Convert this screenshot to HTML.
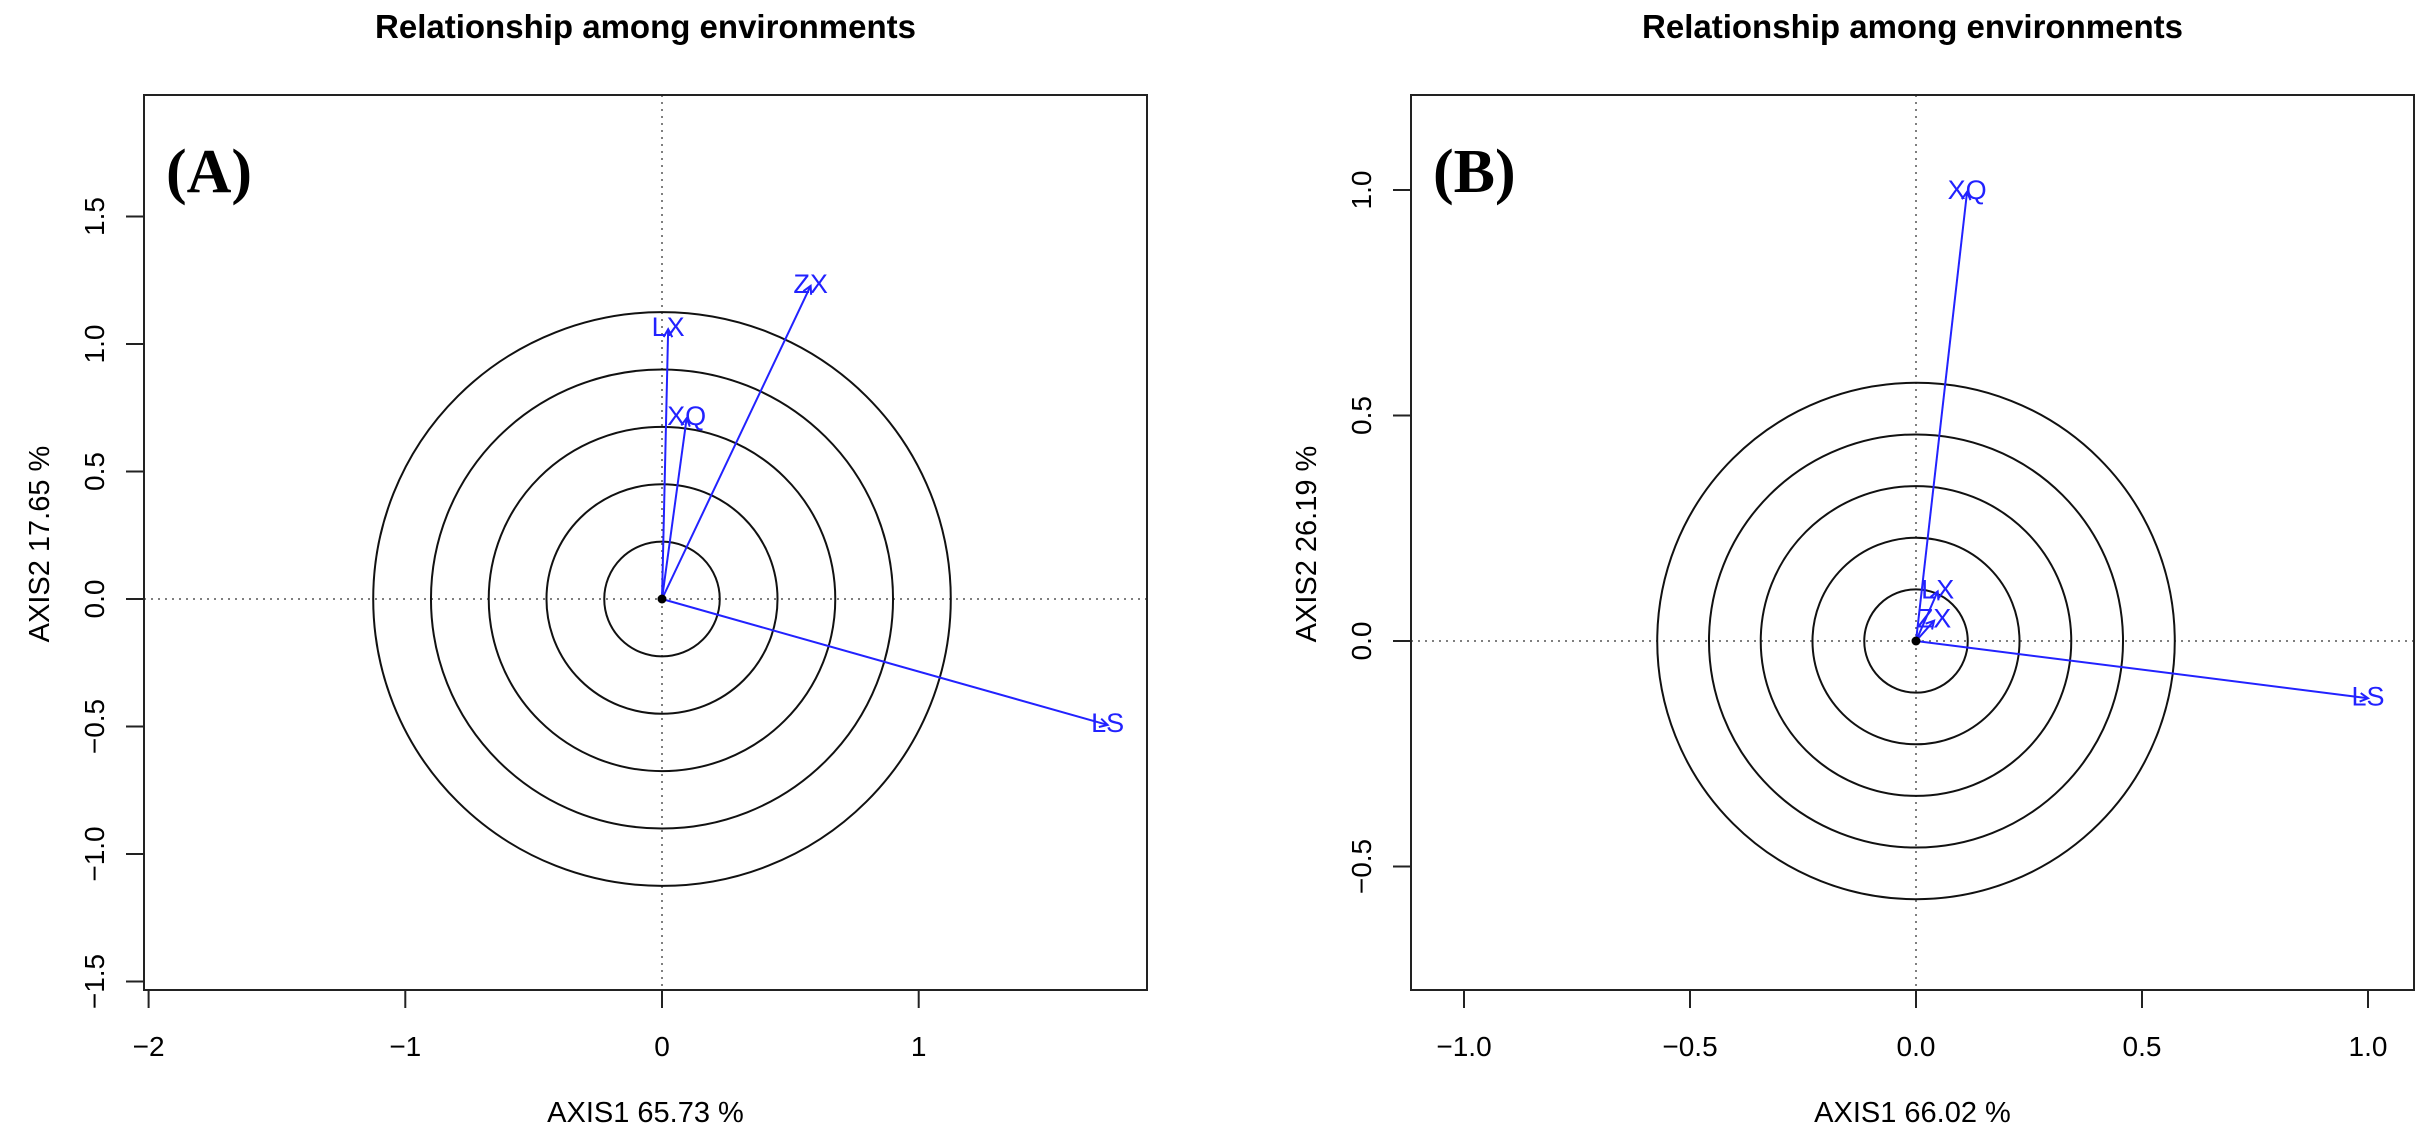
<!DOCTYPE html>
<html><head><meta charset="utf-8"><style>
html,body{margin:0;padding:0;background:#fff;}
svg{display:block;font-family:"Liberation Sans",sans-serif;}
</style></head><body>
<svg id="chart" width="2426" height="1134" viewBox="0 0 2426 1134"></svg>
<script>
// Panel A data
const envNamesA = ["LX","ZX","XQ","LS"];
const envXA = [0.024, 0.579, 0.096, 1.736];
const envYA = [1.058, 1.228, 0.709, -0.494];
const circleRadiiA = [0.225, 0.45, 0.675, 0.9, 1.125];
const xTicksA = [-2, -1, 0, 1];
const xTickLabelsA = ["\u22122", "\u22121", "0", "1"];
const yTicksA = [-1.5, -1.0, -0.5, 0.0, 0.5, 1.0, 1.5];
const yTickLabelsA = ["\u22121.5", "\u22121.0", "\u22120.5", "0.0", "0.5", "1.0", "1.5"];
// Panel B data
const envNamesB = ["XQ","LX","ZX","LS"];
const envXB = [0.113, 0.048, 0.040, 1.0];
const envYB = [0.996, 0.11, 0.045, -0.127];
const circleRadiiB = [0.1145, 0.229, 0.3435, 0.458, 0.5725];
const xTicksB = [-1.0, -0.5, 0.0, 0.5, 1.0];
const xTickLabelsB = ["\u22121.0", "\u22120.5", "0.0", "0.5", "1.0"];
const yTicksB = [-0.5, 0.0, 0.5, 1.0];
const yTickLabelsB = ["\u22120.5", "0.0", "0.5", "1.0"];

const NS = "http://www.w3.org/2000/svg";
const svg = document.getElementById("chart");
function mk(tag, attrs, parent, text){
  const e = document.createElementNS(NS, tag);
  for (const k in attrs) e.setAttribute(k, attrs[k]);
  if (text !== undefined) e.textContent = text;
  (parent || svg).appendChild(e);
  return e;
}

function panel(cfg){
  const g = mk("g", {});
  
  
  const sx = v => cfg.cx + v * cfg.ux;
  const sy = v => cfg.cy - v * cfg.uy;
  const L = cfg.box[0], T = cfg.box[1], R = cfg.box[2], B = cfg.box[3];
  const title = mk("text", {x:(L+R)/2, y:38, "text-anchor":"middle", "font-size":"33", "font-weight":"bold"}, g, "Relationship among environments");
  
  
  const hl = mk("line", {x1:L, x2:R, y1:sy(0), y2:sy(0), stroke:"#555", "stroke-width":1.5, "stroke-dasharray":"2,5"}, g);
  
  
  const vl = mk("line", {x1:sx(0), x2:sx(0), y1:T, y2:B, stroke:"#555", "stroke-width":1.5, "stroke-dasharray":"2,5"}, g);
  
  
  cfg.radii.forEach((r) => {
    const c = mk("ellipse", {cx:sx(0), cy:sy(0), rx:r*cfg.ux, ry:r*cfg.uy, fill:"none", stroke:"#111", "stroke-width":2}, g);
    
    
  });
  cfg.names.forEach((n, i) => {
    const x2 = sx(cfg.xs[i]), y2 = sy(cfg.ys[i]);
    const ln = mk("line", {x1:sx(0), y1:sy(0), x2:x2, y2:y2, stroke:"#2222ff", "stroke-width":2}, g);
    
    
    const ang = Math.atan2(y2 - sy(0), x2 - sx(0));
    const hlen = 9;
    const hd = mk("polyline", {points:
      (x2 - hlen*Math.cos(ang-0.5)) + "," + (y2 - hlen*Math.sin(ang-0.5)) + " " + x2 + "," + y2 + " " +
      (x2 - hlen*Math.cos(ang+0.5)) + "," + (y2 - hlen*Math.sin(ang+0.5)),
      fill:"none", stroke:"#2222ff", "stroke-width":2}, g);
    
    
    const t = mk("text", {x:x2, y:y2 + 7, "text-anchor":"middle", "font-size":"27", fill:"#2222ff"}, g, n);
    
    
  });
  const d = mk("circle", {cx:sx(0), cy:sy(0), r:4.5, fill:"#000"}, g);
  
  
  const bx = mk("rect", {x:L, y:T, width:R-L, height:B-T, fill:"none", stroke:"#222", "stroke-width":2}, g);
  
  
  const xa = mk("line", {x1:sx(cfg.xt[0]), x2:sx(cfg.xt[cfg.xt.length-1]), y1:B, y2:B, stroke:"#222", "stroke-width":2}, g);
  
  
  cfg.xt.forEach((v, i) => {
    const tk = mk("line", {x1:sx(v), x2:sx(v), y1:B, y2:B+18, stroke:"#222", "stroke-width":2}, g);
    
    
    const tl = mk("text", {x:sx(v), y:1056, "text-anchor":"middle", "font-size":"28"}, g, cfg.xtl[i]);
    
    
  });
  const ya = mk("line", {x1:L, x2:L, y1:sy(cfg.yt[0]), y2:sy(cfg.yt[cfg.yt.length-1]), stroke:"#222", "stroke-width":2}, g);
  
  
  cfg.yt.forEach((v, i) => {
    const tk = mk("line", {x1:L-18, x2:L, y1:sy(v), y2:sy(v), stroke:"#222", "stroke-width":2}, g);
    
    
    const tx = L - 40;
    const tl = mk("text", {x:tx, y:sy(v), "text-anchor":"middle", "font-size":"28", transform:"rotate(-90 " + tx + " " + sy(v) + ")"}, g, cfg.ytl[i]);
    
    
  });
  const xt = mk("text", {x:(L+R)/2, y:1122, "text-anchor":"middle", "font-size":"29"}, g, cfg.xtitle);
  
  
  const ytx = L - 95;
  const yt = mk("text", {x:ytx, y:544, "text-anchor":"middle", "font-size":"29", transform:"rotate(-90 " + ytx + " 544)"}, g, cfg.ytitle);
  
  
  const pl = mk("text", {x:L+22, y:192, "font-size":"62", "font-weight":"bold", "font-family":"Liberation Serif, serif"}, g, cfg.label);
  
  
}

panel({name:"panel-a", box:[144,95,1147,990], cx:662, cy:599, ux:256.7, uy:255,
  radii:circleRadiiA, names:envNamesA, xs:envXA, ys:envYA,
  xt:xTicksA, xtl:xTickLabelsA, yt:yTicksA, ytl:yTickLabelsA,
  xtitle:"AXIS1 65.73 %", ytitle:"AXIS2 17.65 %", label:"(A)"});
panel({name:"panel-b", box:[1411,95,2414,990], cx:1916, cy:641, ux:452, uy:451,
  radii:circleRadiiB, names:envNamesB, xs:envXB, ys:envYB,
  xt:xTicksB, xtl:xTickLabelsB, yt:yTicksB, ytl:yTickLabelsB,
  xtitle:"AXIS1 66.02 %", ytitle:"AXIS2 26.19 %", label:"(B)"});
</script>
</body></html>
